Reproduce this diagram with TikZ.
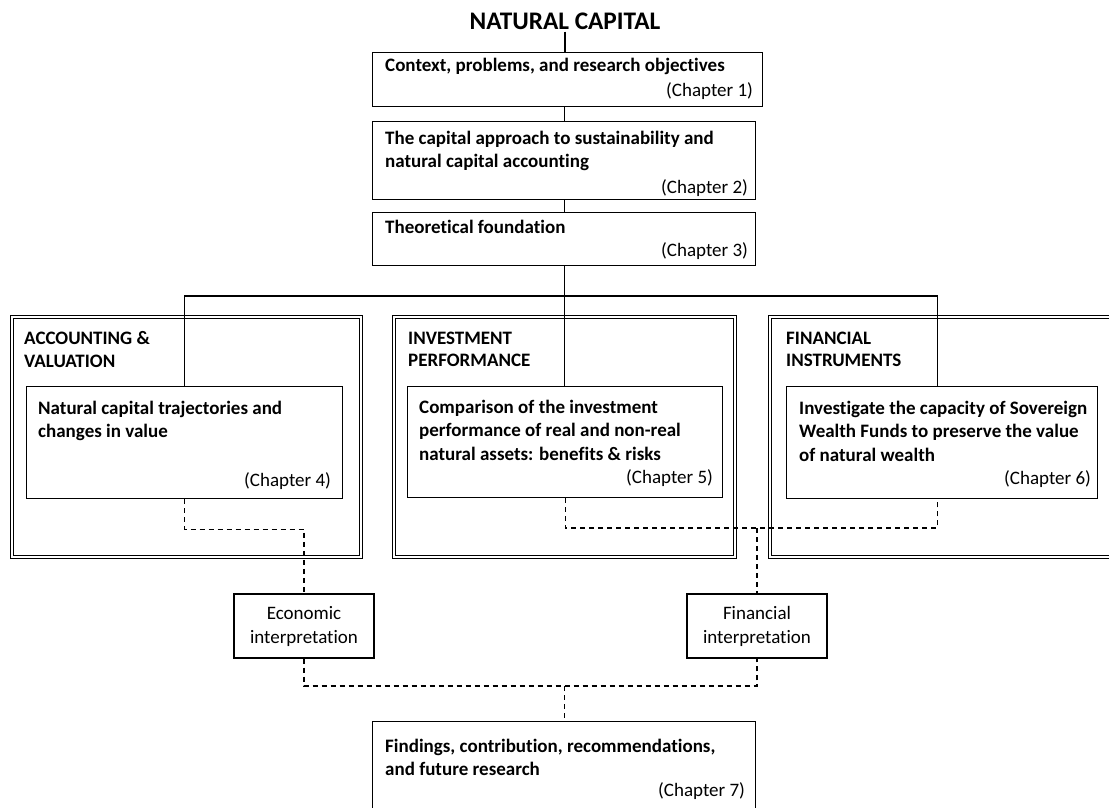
\documentclass[tikz,border=0pt]{standalone}
\usepackage{fontspec}
\setmainfont{Carlito}[Ligatures=NoCommon]
\usetikzlibrary{positioning}
\tikzset{
  box/.style={draw,line width=1.2pt,anchor=north west,inner sep=0pt},
  frame/.style={draw,double,double distance=2pt,line width=1pt,anchor=north west,inner sep=0pt},
  txt/.style={inner sep=0pt,align=left,font=\bfseries\fontsize{19}{23.5}\selectfont},
  head/.style={inner sep=0pt,align=left,font=\bfseries\fontsize{19}{22.5}\selectfont},
  chap/.style={inner sep=0pt,font=\fontsize{19}{23.5}\selectfont},
  interp/.style={draw,line width=1.2pt,minimum width=140pt,minimum height=64pt,inner sep=0pt,align=center,font=\fontsize{19}{24}\selectfont},
  link/.style={line width=1.2pt},
  dlink/.style={line width=1.2pt,dash pattern=on 5pt off 4pt}
}

\begin{document}
\begin{tikzpicture}[x=1pt,y=-1pt]
  \useasboundingbox (0,0) rectangle (1109,808);
  \clip (0,0) rectangle (1109,808);
  \fill[white] (0,0) rectangle (1109,808);

  % title and chapters 1-3
  \node[anchor=north,inner sep=0pt,font=\bfseries\fontsize{25.3}{30}\selectfont] (title) at (565,12.5) {NATURAL CAPITAL};
  \node[box,minimum width=390pt,minimum height=54pt] (c1) at (372,52) {};
  \node[txt,below right=5.5pt and 13pt of c1.north west] (t1) {Context, problems, and research objectives};
  \node[chap,above left=10.5pt and 10pt of c1.south east,anchor=base east] (h1) {(Chapter 1)};

  \node[box,minimum width=383pt,minimum height=78pt] (c2) at (372,121) {};
  \node[txt,below right=9.5pt and 13pt of c2.north west] (t2) {The capital approach to sustainability and\\natural capital accounting};
  \node[chap,above left=7pt and 8pt of c2.south east,anchor=base east] (h2) {(Chapter 2)};

  \node[box,minimum width=383pt,minimum height=53pt] (c3) at (372,212) {};
  \node[txt,below right=7.5pt and 13pt of c3.north west] (t3) {Theoretical foundation};
  \node[chap,above left=10pt and 8pt of c3.south east,anchor=base east] (h3) {(Chapter 3)};

  % the three themes
  \node[frame,minimum width=349pt,minimum height=240pt] (f1) at (11,316.5) {};
  \node[frame,minimum width=341pt,minimum height=240pt] (f2) at (393,316.5) {};
  \node[frame,minimum width=361pt,minimum height=240pt] (f3) at (769,316.5) {};
  \node[head,below right=15pt and 13pt of f1.north west] (g1) {ACCOUNTING \&\\VALUATION};
  \node[head,below right=15pt and 15pt of f2.north west] (g2) {INVESTMENT\\PERFORMANCE};
  \node[head,below right=15pt and 17pt of f3.north west] (g3) {FINANCIAL\\INSTRUMENTS};

  \node[box,minimum width=316pt,minimum height=112pt] (c4) at (26,386) {};
  \node[txt,below right=14.5pt and 12pt of c4.north west] (t4) {Natural capital trajectories and\\changes in value};
  \node[chap,above left=13pt and 12pt of c4.south east,anchor=base east] (h4) {(Chapter 4)};

  \node[box,minimum width=315pt,minimum height=111pt] (c5) at (407,386) {};
  \node[txt,below right=13.5pt and 12pt of c5.north west] (t5) {Comparison of the investment\\performance of real and non-real\\natural assets: benefits \& risks};
  \node[chap,above left=15pt and 10pt of c5.south east,anchor=base east] (h5) {(Chapter 5)};

  \node[box,minimum width=311pt,minimum height=112pt] (c6) at (786,386) {};
  \node[txt,below right=14.5pt and 13pt of c6.north west] (t6) {Investigate the capacity of Sovereign\\Wealth Funds to preserve the value\\of natural wealth};
  \node[chap,above left=15pt and 7pt of c6.south east,anchor=base east] (h6) {(Chapter 6)};

  % interpretations and conclusion
  \node[interp] (econ) at (304,626) {Economic\\interpretation};
  \node[interp] (fin) at (757,626) {Financial\\interpretation};

  \node[box,minimum width=383pt,minimum height=94pt] (c7) at (372,721) {};
  \node[txt,below right=17.5pt and 13pt of c7.north west] (t7) {Findings, contribution, recommendations,\\and future research};
  \node[chap,below left=75pt and 11pt of c7.north east,anchor=base east] (h7) {(Chapter 7)};

  % connectors
  \draw[link,shorten <=2pt] (title.south) -- (title.south |- c1.north);
  \draw[link] (c2.north |- c1.south) -- (c2.north);
  \draw[link] (c3.north |- c2.south) -- (c3.north);
  \draw[link] (c3.south) -- (c3.south |- c5.north);
  \coordinate (hub) at (c3.south |- 0,296);
  \draw[link] (c4.north) |- (hub) -| ([xshift=-4.5pt]c6.north);

  \draw[dlink] (c4.south) -- ++(0,30) -| (econ.north);
  \coordinate (jB) at (fin.north |- 0,528);
  \draw[dlink] (c5.south) |- (jB) -| ([xshift=-4.5pt]c6.south);
  \draw[dlink] (jB) -- (fin.north);
  \coordinate (jC) at (c7.north |- 0,686);
  \draw[dlink] (econ.south) |- (jC) -| (fin.south);
  \draw[dlink] (jC) -- (c7.north);
\end{tikzpicture}
\end{document}
